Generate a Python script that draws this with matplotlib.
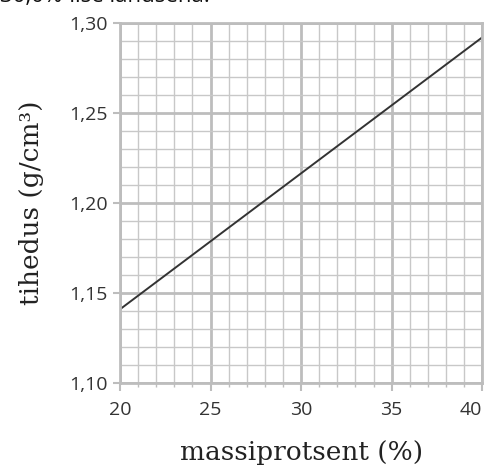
import numpy as np
import matplotlib
matplotlib.use('Agg')
from matplotlib import pyplot as plt
from matplotlib.ticker import MultipleLocator, FuncFormatter

# data
mass_pct = [20, 40]
density = [1.141, 1.292]
x_ticks = [20, 25, 30, 35, 40]
y_ticks = [1.10, 1.15, 1.20, 1.25, 1.30]

grid_col = '#c8c8c8'
label_col = '#333333'
plt.rcParams['font.family'] = ['Open Sans', 'DejaVu Sans']

fig = plt.figure(figsize=(4.88, 4.70), dpi=100)
ax = fig.add_axes([0.246, 0.185, 0.742, 0.766])

ax.set_xlim(20, 40)
ax.set_ylim(1.10, 1.30)
ax.set_xticks(x_ticks)
ax.set_yticks(y_ticks)
ax.xaxis.set_minor_locator(MultipleLocator(1))
ax.yaxis.set_minor_locator(MultipleLocator(0.01))

ax.grid(which='minor', color=grid_col, lw=1.0)
ax.grid(which='major', color='#bdbdbd', lw=2.0)
ax.set_axisbelow(True)
for s in ax.spines.values():
    s.set_color('#bdbdbd')
    s.set_linewidth(2.0)

ax.tick_params(axis='x', which='major', length=6, width=1.5, color='#bdbdbd',
               labelsize=14, labelcolor=label_col, pad=7)
ax.tick_params(axis='x', which='minor', length=3, width=1.0, color='#bdbdbd')
ax.tick_params(axis='y', which='major', length=5, width=1.5, color='#bdbdbd',
               labelsize=14, labelcolor=label_col, pad=4)
ax.tick_params(axis='y', which='minor', length=0)

ax.yaxis.set_major_formatter(FuncFormatter(lambda v, p: ('%.2f' % v).replace('.', ',')))
ax.get_xticklabels()[-1].set_ha('right')

ax.plot(mass_pct, density, color='#333333', lw=1.4)

ax.set_xlabel('massiprotsent (%)', family='DejaVu Serif', fontsize=19,
              color='#222222', labelpad=15)
ax.set_ylabel('tihedus (g/cm³)', family='DejaVu Serif', fontsize=19,
              color='#222222', labelpad=18)

# caption cut off at the top of the source image
fig.text(0.0, 1.008, '30,0%-lise lahusena.', family='Open Sans', fontsize=16,
         va='center', ha='left', color='#111111')

fig.savefig('out.png', dpi=100)
